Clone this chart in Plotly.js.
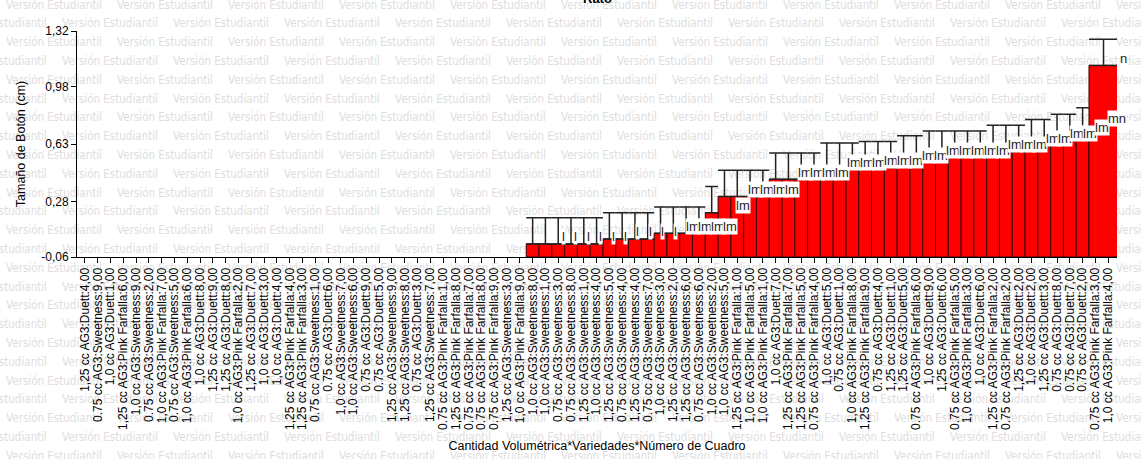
<!DOCTYPE html>
<html><head><meta charset="utf-8">
<script src="https://cdn.plot.ly/plotly-3.0.1.min.js"></script>
<style>
html,body{margin:0;padding:0;background:#fff;overflow:hidden;}
#wm{position:absolute;left:0;top:0;}
#chart{position:absolute;left:0;top:0;width:1142px;height:459px;}
</style>
</head><body>
<svg id="wm" width="1142" height="459" xmlns="http://www.w3.org/2000/svg"></svg>
<div id="chart"></div>
<script>
const categories = [
'1,25 cc AG3:Duett:4,00','0.75 cc AG3:Sweetness:9,00','1,0 cc AG3:Duett:1,00','1,25 cc AG3:Pink Farfalla:6,00',
'1,0 cc AG3:Sweetness:9,00','0.75 cc AG3:Sweetness:2,00','1,0 cc AG3:Pink Farfalla:7,00','0.75 cc AG3:Sweetness:5,00',
'1,0 cc AG3:Pink Farfalla:6,00','1,0 cc AG3:Duett:8,00','1,25 cc AG3:Duett:9,00','1,25 cc AG3:Duett:8,00',
'1,0 cc AG3:Pink Farfalla:2,00','1,25 cc AG3:Duett:7,00','1,0 cc AG3:Duett:3,00','1,0 cc AG3:Duett:4,00',
'1,25 cc AG3:Pink Farfalla:4,00','1,25 cc AG3:Pink Farfalla:3,00','0.75 cc AG3:Sweetness:1,00','0.75 cc AG3:Duett:6,00',
'1,0 cc AG3:Sweetness:7,00','1,0 cc AG3:Sweetness:6,00','0.75 cc AG3:Duett:9,00','0.75 cc AG3:Duett:5,00',
'1,25 cc AG3:Sweetness:9,00','1,25 cc AG3:Sweetness:8,00','0.75 cc AG3:Duett:3,00','1,25 cc AG3:Sweetness:7,00',
'0.75 cc AG3:Pink Farfalla:1,00','1,25 cc AG3:Pink Farfalla:8,00','0.75 cc AG3:Pink Farfalla:7,00','0.75 cc AG3:Pink Farfalla:8,00',
'0.75 cc AG3:Pink Farfalla:9,00','1,25 cc AG3:Sweetness:3,00','1,0 cc AG3:Pink Farfalla:9,00','1,0 cc AG3:Sweetness:8,00',
'1,0 cc AG3:Sweetness:1,00','0.75 cc AG3:Sweetness:3,00','0.75 cc AG3:Sweetness:8,00','1,25 cc AG3:Sweetness:1,00',
'1,0 cc AG3:Sweetness:4,00','1,25 cc AG3:Sweetness:5,00','0.75 cc AG3:Sweetness:4,00','1,25 cc AG3:Sweetness:4,00',
'0.75 cc AG3:Sweetness:7,00','1,0 cc AG3:Sweetness:3,00','1,25 cc AG3:Sweetness:2,00','1,25 cc AG3:Sweetness:6,00',
'0.75 cc AG3:Sweetness:6,00','1,0 cc AG3:Sweetness:2,00','1,0 cc AG3:Sweetness:5,00','1,25 cc AG3:Pink Farfalla:1,00',
'1,0 cc AG3:Pink Farfalla:5,00','1,0 cc AG3:Pink Farfalla:1,00','1,0 cc AG3:Duett:7,00','1,25 cc AG3:Pink Farfalla:7,00',
'1,25 cc AG3:Pink Farfalla:5,00','0.75 cc AG3:Pink Farfalla:4,00','1,0 cc AG3:Duett:5,00','0.75 cc AG3:Duett:1,00',
'1,0 cc AG3:Pink Farfalla:8,00','1,25 cc AG3:Pink Farfalla:9,00','0.75 cc AG3:Duett:4,00','1,25 cc AG3:Duett:1,00',
'1,25 cc AG3:Duett:5,00','0.75 cc AG3:Pink Farfalla:6,00','1,0 cc AG3:Duett:9,00','1,25 cc AG3:Duett:6,00',
'0.75 cc AG3:Pink Farfalla:5,00','1,0 cc AG3:Pink Farfalla:3,00','1,0 cc AG3:Duett:6,00','1,25 cc AG3:Pink Farfalla:2,00',
'0.75 cc AG3:Pink Farfalla:2,00','1,25 cc AG3:Duett:2,00','1,0 cc AG3:Duett:2,00','1,25 cc AG3:Duett:3,00',
'0.75 cc AG3:Duett:8,00','0.75 cc AG3:Duett:7,00','0.75 cc AG3:Duett:2,00','0.75 cc AG3:Pink Farfalla:3,00',
'1,0 cc AG3:Pink Farfalla:4,00'
];

// mean button size (cm); first 35 categories show no bar
const values = [
null,null,null,null,null,null,null,null,null,null,null,null,null,null,null,null,null,null,null,null,
null,null,null,null,null,null,null,null,null,null,null,null,null,null,null,
0.02,0.02,0.02,0.02,0.02,0.02,
0.05,0.05,0.05,0.05,
0.085,0.085,0.085,0.085,
0.21,
0.31,0.31,0.31,0.31,
0.415,0.415,0.415,0.415,
0.476,0.476,0.476,
0.486,0.486,0.486,
0.52,0.52,
0.55,0.55,0.55,0.55,0.55,
0.584,0.584,0.584,
0.62,0.62,
0.651,0.651,
0.691,
0.74,
1.11
];

// upper error (cm)
const errors = [
null,null,null,null,null,null,null,null,null,null,null,null,null,null,null,null,null,null,null,null,
null,null,null,null,null,null,null,null,null,null,null,null,null,null,null,
0.16,0.16,0.16,0.16,0.16,0.16,0.16,0.16,0.16,0.16,
0.16,0.16,0.16,0.16,0.16,0.16,0.16,0.16,0.16,0.16,
0.16,0.16,0.16,0.16,0.16,0.16,0.16,0.16,0.16,0.16,
0.16,0.16,0.16,0.16,0.16,0.16,0.16,0.16,0.16,0.16,
0.16,0.16,0.16,0.16,0.16,0.16
];

const letters = [
'','','','','','','','','','','','','','','','','','','','',
'','','','','','','','','','','','','','','',
'l','l','l','l','l','l','l','l','l','l',
'lm','lm','lm','lm','lm','lm','lm','lm','lm','lm',
'lm','lm','lm','lm','lm','lm','lm','lm','lm','lm',
'lm','lm','lm','lm','lm','lm','lm','lm','lm','lm',
'lm','lm','lm','lm','mn','n'
];

const yTickVals = [-0.06, 0.28, 0.63, 0.98, 1.32];
const yTickText = ['-0,06', '0,28', '0,63', '0,98', '1,32'];

// ---------- watermark ----------
(function(){
  const svg = document.getElementById('wm');
  const NS = 'http://www.w3.org/2000/svg';
  const period = 111, rowStep = 18.8;
  for (let r = 0; r < 26; r++) {
    const y = 5 + r * rowStep;
    const x0 = (r % 2 === 0 ? 6 : 62) - period;
    for (let x = x0; x < 1142; x += period) {
      const t = document.createElementNS(NS, 'text');
      t.setAttribute('x', x); t.setAttribute('y', y);
      t.setAttribute('dominant-baseline', 'middle');
      t.setAttribute('font-family', 'DejaVu Sans, sans-serif');
      t.setAttribute('font-size', '12');
      t.setAttribute('fill', '#dedede');
      t.setAttribute('textLength', '96');
      t.setAttribute('lengthAdjust', 'spacingAndGlyphs');
      t.textContent = 'Versión Estudiantil';
      svg.appendChild(t);
    }
  }
})();

// ---------- chart ----------
const axisMin = yTickVals[0];
const xRange = [-0.625, 80.69];
const idx = categories.map((_, i) => i);
const last = categories.length - 1;
const firstBar = values.findIndex(v => v != null);

function sub(arr, a, b) { return arr.slice(a, b); }
const lens = values.map(v => v == null ? null : v - axisMin);
const zeros = values.map(() => 0);

const barStyle = {color: '#ff0000', line: {color: '#3a0000', width: 1}};
const font = 'Liberation Sans, Arial, sans-serif';

const traceMain = {
  type: 'bar', x: sub(idx, 0, last), y: sub(lens, 0, last), base: axisMin,
  width: 1, marker: barStyle,
  error_y: {type: 'data', symmetric: false, array: sub(errors, 0, last), arrayminus: sub(zeros, 0, last),
            visible: true, color: '#222', thickness: 1.5, width: 6.4},
  hoverinfo: 'skip'
};
const traceLast = {
  type: 'bar', x: [idx[last]], y: [lens[last]], base: axisMin,
  width: [2.27], offset: [-1.5], marker: barStyle,
  error_y: {type: 'data', symmetric: false, array: [errors[last]], arrayminus: [0],
            visible: true, color: '#222', thickness: 1.5, width: 14.5},
  hoverinfo: 'skip'
};

function toPaperX(x) { return (x - xRange[0]) / (xRange[1] - xRange[0]); }

// letter labels: left edge placed slightly right of each bar, on a marginally tighter pitch
const annotations = [];
values.forEach((v, i) => {
  if (v == null || !letters[i]) return;
  const k = i - firstBar;
  const lx = i + 2.22 - 0.0305 * k;
  annotations.push({
    x: toPaperX(lx), y: v, xref: 'paper', yref: 'y', yshift: 7, xanchor: 'left',
    text: letters[i], showarrow: false, bgcolor: '#ffffff', borderpad: 0,
    font: {family: font, size: 13, color: '#222'}
  });
});
annotations.push({
  xref: 'paper', yref: 'paper', x: 0.5, y: 1.145, yanchor: 'middle', showarrow: false,
  text: '<b>Rato</b>', font: {family: font, size: 13, color: '#000'}
});

const layout = {
  width: 1142, height: 459,
  margin: {l: 77, r: 25, t: 31, b: 202},
  paper_bgcolor: 'rgba(0,0,0,0)', plot_bgcolor: 'rgba(0,0,0,0)',
  showlegend: false, bargap: 0, barmode: 'overlay',
  xaxis: {
    range: xRange, tickvals: idx, ticktext: categories, tickangle: -90,
    ticks: 'outside', ticklen: 5, tickcolor: '#000', showline: true, linecolor: '#000', linewidth: 1,
    showgrid: false, zeroline: false, automargin: false,
    tickfont: {family: font, size: 12, color: '#000'},
    title: {text: 'Cantidad Volumétrica*Variedades*Número de Cuadro', font: {family: font, size: 12.5, color: '#000'}, standoff: 12}
  },
  yaxis: {
    range: [axisMin, yTickVals[yTickVals.length - 1]], tickvals: yTickVals, ticktext: yTickText,
    ticks: 'outside', ticklen: 5, tickcolor: '#000', showline: true, linecolor: '#000', linewidth: 1,
    showgrid: false, zeroline: false, automargin: false,
    tickfont: {family: font, size: 12, color: '#000'},
    title: {text: 'Tamaño de Botón (cm)', font: {family: font, size: 12.5, color: '#000'}, standoff: 12}
  },
  annotations: annotations
};

Plotly.newPlot('chart', [traceMain, traceLast], layout, {displayModeBar: false, staticPlot: true});
</script>
</body></html>
